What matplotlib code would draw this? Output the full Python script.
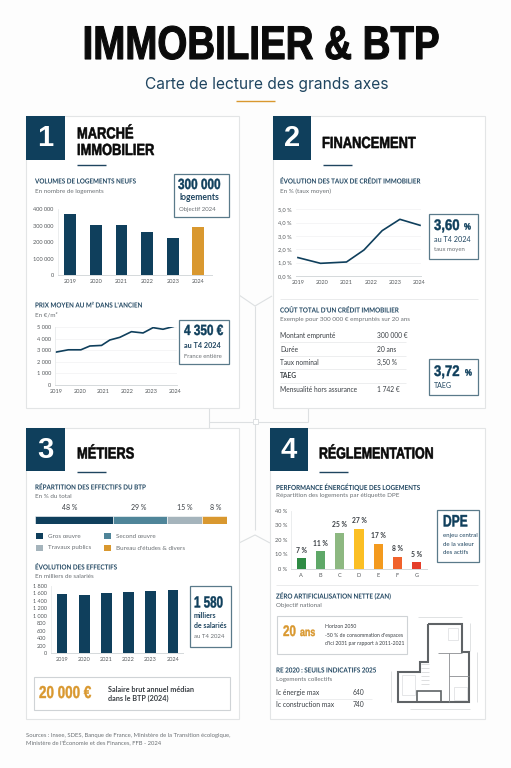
#!/usr/bin/env python3
"""Infographic: immobilier & BTP, four panels drawn on a 511x768 pixel canvas."""
import matplotlib
matplotlib.use("Agg")
import matplotlib.pyplot as plt
from matplotlib.patches import Rectangle
from matplotlib.patheffects import AbstractPathEffect
from matplotlib.transforms import Affine2D

W, H = 511, 768
NAVY = "#0F3F5C"
HEAD = "#1F4560"
TEAL = "#4F8599"
GREY = "#A5B4BC"
ORANGE = "#D9982F"
BORDER = "#5A7A8A"
CARD = "#E3E5E6"
TEXT = "#3A3F44"
SOFT = "#6B7074"
HEAVY = "Liberation Sans"  # no condensed face installed, squeezed below
BODY = "Lato"
plt.rcParams["font.family"] = [BODY, "DejaVu Sans"]

# data
years = ["2019", "2020", "2021", "2022", "2023", "2024"]
housing_units = [369000, 304000, 304000, 264000, 223000, 290000]
housing_ticks = [0, 100000, 200000, 300000, 400000]
housing_labels = ["0", "100 000", "200 000", "300 000", "400 000"]

price_x = [2019, 2019.52, 2020.05, 2020.43, 2020.92, 2021.27, 2021.69, 2022.18, 2022.67, 2023.09, 2023.51, 2023.94]
price_eur = [2850, 3050, 3050, 3380, 3430, 3900, 4130, 4620, 4510, 4970, 4830, 5060]
price_ticks = [0, 1000, 2000, 3000, 4000, 5000]
price_labels = ["0", "1 000", "2 000", "3 000", "4 000", "5 000"]

rate_x = [2019, 2019.93, 2021, 2021.72, 2022.47, 2023.2, 2024.03]
rate_pct = [1.38, 0.95, 1.05, 1.95, 3.4, 4.25, 3.8]
rate_ticks = [0, 1, 2, 3, 4, 5]
rate_labels = ["0,0 %", "1,0 %", "2,0 %", "3,0 %", "4,0 %", "5,0 %"]

loan_rows = ["Montant emprunté", "Durée", "Taux nominal", "TAEG", "Mensualité hors assurance"]
loan_values = ["300 000 €", "20 ans", "3,50 %", "", "1 742 €"]

# segment lengths as drawn, the printed shares differ from them
staff_drawn = [40.5, 28.2, 18.3, 13.0]
staff_labels = ["48 %", "29 %", "15 %", "8 %"]
staff_colors = [NAVY, TEAL, GREY, ORANGE]

headcount = [1586, 1560, 1613, 1640, 1666, 1693]
headcount_ticks = [0, 200, 400, 600, 800, 1000, 1200, 1400, 1600, 1800]
headcount_labels = ["0", "200", "400", "600", "800", "1 000", "1 200", "1 400", "1 600", "1 800"]

dpe_classes = ["A", "B", "C", "D", "E", "F", "G"]
dpe_share = [7.5, 12.3, 25, 27.7, 17.4, 8.5, 4.8]
dpe_labels = ["7 %", "11 %", "25 %", "27 %", "17 %", "8 %", "5 %"]
dpe_colors = ["#2E8B44", "#5FA868", "#8DB881", "#FBBF24", "#F39A1E", "#F0622C", "#E53E2A"]
dpe_ticks = [0, 10, 20, 30, 40]
dpe_tick_labels = ["0 %", "10 %", "20 %", "30 %", "40 %"]


class Squeeze(AbstractPathEffect):
    """Narrow the glyphs about a pixel column, optionally thickening them."""

    def __init__(self, anchor, sx, stroke=0.0):
        super().__init__()
        self.anchor, self.sx, self.stroke = anchor, sx, stroke

    def draw_path(self, renderer, gc, tpath, affine, rgbFace=None):
        squeeze = affine + Affine2D().translate(-self.anchor, 0).scale(self.sx, 1).translate(self.anchor, 0)
        gc0 = renderer.new_gc()
        gc0.copy_properties(gc)
        gc0.set_linewidth(self.stroke)
        if self.stroke:
            gc0.set_foreground(rgbFace)
        renderer.draw_path(gc0, tpath, squeeze, rgbFace)
        gc0.restore()


fig = plt.figure(figsize=(W / 100, H / 100), dpi=100, facecolor="#FDFDFD")
bg = fig.add_axes([0, 0, 1, 1])
bg.set_xlim(0, W)
bg.set_ylim(H, 0)
bg.axis("off")


def txt(x, y, s, size=4.8, color=TEXT, weight="normal", family=None, ha="left", va="center", sx=None, stroke=0.0, z=5):
    t = bg.text(x, y, s, fontsize=size, color=color, fontweight=weight,
                family=family or BODY, ha=ha, va=va, zorder=z)
    if sx:
        t.set_path_effects([Squeeze(bg.transData.transform((x, 0))[0], sx, stroke)])
    return t


def heavy(x, y, s, size, color=NAVY, sx=0.8, stroke=0.3, ha="left"):
    return txt(x, y, s, size=size, color=color, weight="bold", family=HEAVY, ha=ha, sx=sx, stroke=stroke)


def rect(x0, y0, x1, y1, fc="white", ec="none", lw=0.8, z=1):
    bg.add_patch(Rectangle((x0, y0), x1 - x0, y1 - y0, fc=fc, ec=ec, lw=lw, zorder=z))


def seg(xs, ys, color=CARD, lw=0.7, z=2):
    bg.plot(xs, ys, color=color, lw=lw, zorder=z, solid_capstyle="butt", solid_joinstyle="miter")


def panel(x0, y0, x1, y1, box_x1, box_y1, num, title_lines, title_x, rule_y, rule_x0, sx=0.8):
    rect(x0, y0, x1, y1, fc="white", ec=CARD, lw=0.8)
    rect(x0, y0, box_x1, box_y1, fc=NAVY, z=3)
    txt((x0 + box_x1) / 2, (y0 + box_y1) / 2, num, size=21, color="white", weight="bold", family=HEAVY, ha="center")
    for s, y in title_lines:
        heavy(title_x, y, s, 11.6, color="#0A0A0A", sx=sx, stroke=0.4)
    seg([rule_x0, rule_x0 + 28.5], [rule_y, rule_y], color=HEAD, lw=1.0)


def subhead(x, y, title, sub, sub_y):
    txt(x, y, title, size=5.0, color=HEAD, weight="bold", sx=0.9)
    txt(x, sub_y, sub, size=4.5, color=SOFT)


def chart(x0, x1, y_zero, y_top, xlim, ylim, yticks, ylabels, ysize=4.1, grid=False):
    ax = fig.add_axes([x0 / W, 1 - y_zero / H, (x1 - x0) / W, (y_zero - y_top) / H], zorder=2)
    ax.patch.set_alpha(0)
    ax.set_xlim(*xlim)
    ax.set_ylim(*ylim)
    ax.set_yticks(yticks, ylabels)
    ax.tick_params(length=0, labelsize=ysize, labelcolor="#55595C", pad=3)
    ax.spines[["top", "right"]].set_visible(False)
    ax.spines["left"].set_color("#E8EAEB")
    ax.spines["bottom"].set_color("#D5D9DB")
    ax.spines["left"].set_linewidth(0.6)
    ax.spines["bottom"].set_linewidth(0.7)
    if grid:
        ax.yaxis.grid(True, color="#F1F2F3", lw=0.5)
        ax.set_axisbelow(True)
    return ax


def bar_xlim(x0, x1, first, last, n):
    step = (last - first) / (n - 1)
    return (first - x0) / -step, (x1 - first) / step, step


def callout(x0, y0, x1, y1):
    rect(x0, y0, x1, y1, fc="white", ec=BORDER, lw=0.9)


# connectors behind the cards
seg([239, 255, 272], [295, 306, 296], color="#DDE0E2", lw=0.8, z=0.5)
seg([255, 255], [306, 530], color="#DDE0E2", lw=0.8, z=0.5)
seg([239, 255, 270], [543, 535, 543], color="#DDE0E2", lw=0.8, z=0.5)
seg([209, 308], [421.5, 421.5], color="#DDE0E2", lw=0.8, z=0.5)
seg([209, 209], [408, 428], color="#DDE0E2", lw=0.8, z=0.5)
seg([308, 308], [408, 421.5], color="#DDE0E2", lw=0.8, z=0.5)
rect(252.5, 419, 257.5, 424, fc="white", ec="#DDE0E2", lw=0.7, z=0.6)

# header
heavy(261, 47, "IMMOBILIER & BTP", 34, color="#0A0A0A", sx=0.815, stroke=0.8, ha="center")
txt(266.5, 84, "Carte de lecture des grands axes", size=11.2, color=HEAD, ha="center", family="Inter")
seg([236, 275], [101, 101], color=ORANGE, lw=1.0)

# panel 1
panel(26, 116, 239, 408, 65, 160, "1", [("MARCHÉ", 134), ("IMMOBILIER", 150.5)], 77, 165, 77)
subhead(35, 181, "VOLUMES DE LOGEMENTS NEUFS", "En nombre de logements", 191)
callout(174, 174, 229, 217)
heavy(178, 185, "300 000", 10.6)
txt(179, 198, "logements", size=6.2, color=HEAD, weight="bold")
txt(179, 209, "Objectif 2024", size=4.3, color=SOFT)

lo, hi, step = bar_xlim(57.7, 211.6, 70.3, 198.3, 6)
ax = chart(57.7, 211.6, 275, 209.3, (lo, hi), (0, 400000), housing_ticks, housing_labels)
ax.bar(range(6), housing_units, width=11.7 / step, color=[NAVY] * 5 + [ORANGE])
ax.set_xticks(range(6), years)

subhead(35, 305, "PRIX MOYEN AU M² DANS L'ANCIEN", "En €/m²", 315)
callout(179, 320, 229, 364)
heavy(184, 331, "4 350 €", 10.6)
txt(184, 345, "au T4 2024", size=5.2, color=HEAD, weight="bold")
txt(184, 356, "France entière", size=4.3, color=SOFT)

ax = chart(55, 177, 385, 327.3, (2018.96, 2024.1), (0, 5000), price_ticks, price_labels, grid=True)
ax.plot(price_x, price_eur, color=NAVY, lw=1.2)
ax.set_xticks(range(2019, 2025), years)

# panel 2
panel(273, 116, 485, 408, 311, 160, "2", [("FINANCEMENT", 143.5)], 322, 165, 323)
subhead(280, 181, "ÉVOLUTION DES TAUX DE CRÉDIT IMMOBILIER", "En % (taux moyen)", 191)
callout(429, 213.7, 478, 258.7)
heavy(434, 226, "3,60", 11, sx=0.86)
heavy(464, 227, "%", 6.5, sx=0.86)
txt(434, 239, "au T4 2024", size=5.2, color=HEAD)
txt(434, 250, "taux moyen", size=4.3, color=SOFT)

ax = chart(296, 421, 276, 209.3, (2018.92, 2024.07), (0, 5), rate_ticks, rate_labels, grid=True)
ax.plot(rate_x, rate_pct, color=NAVY, lw=1.2)
ax.set_xticks(range(2019, 2025), years)
ax.spines["left"].set_visible(False)

seg([280, 478], [299, 299], color="#E6E8E9", lw=0.6)
subhead(280, 310, "COÛT TOTAL D'UN CRÉDIT IMMOBILIER", "Exemple pour 300 000 € empruntés sur 20 ans", 320)
row_y = [335.7, 349, 362.3, 375.7, 389.7]
for label, value, y in zip(loan_rows, loan_values, row_y):
    txt(280, y, label, size=4.8, weight="bold" if label == "TAEG" else "normal", color=TEXT)
    txt(377, y, value, size=4.8, color=TEXT)
for y in [342.3, 355.7, 369, 382.5]:
    seg([280, 406], [y, y], color="#E6E8E9", lw=0.5)
callout(429, 359, 478, 395)
heavy(434, 372, "3,72", 11, sx=0.86)
heavy(465, 373, "%", 6.5, sx=0.86)
txt(434, 386, "TAEG", size=5.0, color=HEAD)

# panel 3
panel(26, 428, 239, 719, 65, 471, "3", [("MÉTIERS", 454)], 77, 472, 77)
subhead(35, 487, "RÉPARTITION DES EFFECTIFS DU BTP", "En % du total", 496)
stack = chart(35.3, 226.7, 524, 516, (0, 100), (0, 1), [], [])
stack.axis("off")
left = 0
for width, color in zip(staff_drawn, staff_colors):
    stack.barh(0.5, width, height=1, left=left, color=color, edgecolor="white", linewidth=0.4)
    left += width
for x, label in zip([70, 139, 185, 216], staff_labels):
    txt(x, 508, label, size=5.0, ha="center")
legend_items = [(39, 536, NAVY, "Gros œuvre"), (107, 536, TEAL, "Second œuvre"),
                (39, 548, GREY, "Travaux publics"), (107, 548, ORANGE, "Bureau d'études & divers")]
for x, y, color, label in legend_items:
    rect(x - 3.5, y - 3, x + 3.5, y + 3, fc=color, z=3)
    txt(x + 9, y, label, size=4.5, color=SOFT)

subhead(35, 567, "ÉVOLUTION DES EFFECTIFS", "En milliers de salariés", 576)
lo, hi, step = bar_xlim(50.7, 183, 62.3, 172.7, 6)
ax = chart(50.7, 183, 653, 585.7, (lo, hi), (0, 1800), headcount_ticks, headcount_labels, ysize=4.0)
ax.bar(range(6), headcount, width=10.3 / step, color=NAVY)
ax.set_xticks(range(6), years)
callout(190, 586, 230.7, 646.7)
heavy(194, 603, "1 580", 11.6, sx=0.72)
txt(194, 616, "milliers", size=5.0, color=HEAD, weight="bold")
txt(194, 626, "de salariés", size=5.0, color=HEAD, weight="bold")
txt(194, 637, "au T4 2024", size=4.3, color=SOFT)

rect(34, 676.7, 230, 709.7, fc="white", ec="#CFD3D6", lw=0.8)
heavy(39, 693.5, "20 000 €", 12.4, color=ORANGE, sx=0.78)
txt(107.5, 689, "Salaire brut annuel médian", size=5.2, color=TEXT, weight="bold")
txt(107.5, 698.7, "dans le BTP (2024)", size=5.2, color=TEXT, weight="bold")

# panel 4
panel(270, 428, 485, 719, 308, 471, "4", [("RÉGLEMENTATION", 454)], 319, 472, 319, sx=0.77)
subhead(276, 487, "PERFORMANCE ÉNERGÉTIQUE DES LOGEMENTS", "Répartition des logements par étiquette DPE", 496)
lo, hi, step = bar_xlim(291.3, 427, 301.3, 416.7, 7)
ax = chart(291.3, 427, 569, 510.7, (lo, hi), (0, 40), dpe_ticks, dpe_tick_labels)
bars = ax.bar(range(7), dpe_share, width=9.3 / step, color=dpe_colors)
ax.bar_label(bars, labels=dpe_labels, fontsize=4.9, fontweight="bold", color=TEXT, padding=3)
ax.set_xticks(range(7), dpe_classes)
callout(437.3, 509.7, 478.7, 561.7)
heavy(443, 522, "DPE", 12, sx=0.72)
txt(443, 536, "enjeu central", size=4.4, color=HEAD)
txt(443, 545, "de la valeur", size=4.4, color=HEAD)
txt(443, 553, "des actifs", size=4.4, color=HEAD)

seg([276, 478], [585, 585], color="#E6E8E9", lw=0.6)
subhead(276, 595.7, "ZÉRO ARTIFICIALISATION NETTE (ZAN)", "Objectif national", 605)
rect(276.7, 616.3, 406.7, 653.7, fc="white", ec="#CFD3D6", lw=0.8)
heavy(283, 632, "20", 11, color=ORANGE, sx=0.76)
heavy(300, 633, "ans", 8.5, color=ORANGE, sx=0.75)
txt(325, 626, "Horizon 2050", size=3.7)
txt(325, 635.7, "-50 % de consommation d'espaces", size=3.7)
txt(325, 643.3, "d'ici 2031 par rapport à 2011-2021", size=3.7)

subhead(276, 670, "RE 2020 : SEUILS INDICATIFS 2025", "Logements collectifs", 680)
txt(276, 692.7, "Ic énergie max", size=4.9)
txt(353, 692.7, "640", size=4.9)
seg([276, 372], [698.5, 698.5], color="#E6E8E9", lw=0.5)
txt(276, 704.3, "Ic construction max", size=4.9)
txt(353, 704.3, "740", size=4.9)

# floor plan
outer_x = [427.7, 461.7, 461.7, 469, 469, 397.7, 397.7, 420, 420, 427.7, 427.7]
outer_y = [624.3, 624.3, 652.3, 652.3, 701.7, 701.7, 671.7, 671.7, 661.7, 661.7, 624.3]
seg(outer_x, outer_y, color="#5F6366", lw=1.5, z=3)
seg([417, 417, 441, 441], [701.7, 691, 691, 701.7], color="#5F6366", lw=1.2, z=3)
seg([438, 461.7], [653.3, 653.3], color="#8A8D90", lw=0.6, z=3)
seg([449.3, 449.3], [653.3, 701.7], color="#8A8D90", lw=0.6, z=3)
seg([449.3, 469], [676, 676], color="#8A8D90", lw=0.6, z=3)
for y in [664, 668, 672, 676, 680, 684]:
    seg([421, 429], [y, y], color="#C4C6C8", lw=0.4, z=3)
for x0, y0, x1, y1 in [(448, 628, 458, 640), (454, 687, 467, 700), (402, 675, 415, 695)]:
    rect(x0, y0, x1, y1, fc="none", ec="#DADCDE", lw=0.5, z=3)
seg([418, 462], [617, 617], color="#C9CCCE", lw=0.4, z=3)
seg([470, 470], [623, 651], color="#C9CCCE", lw=0.4, z=3)
seg([477, 477], [652, 702], color="#C9CCCE", lw=0.4, z=3)
seg([391, 391], [671, 702], color="#C9CCCE", lw=0.4, z=3)
seg([410, 470], [709, 709], color="#C9CCCE", lw=0.4, z=3)

# sources
txt(26, 735, "Sources : Insee, SDES, Banque de France, Ministère de la Transition écologique,", size=4.2, color=SOFT)
txt(26, 743, "Ministère de l'Économie et des Finances, FFB - 2024", size=4.2, color=SOFT)

fig.savefig("out.png", dpi=100, facecolor=fig.get_facecolor())
